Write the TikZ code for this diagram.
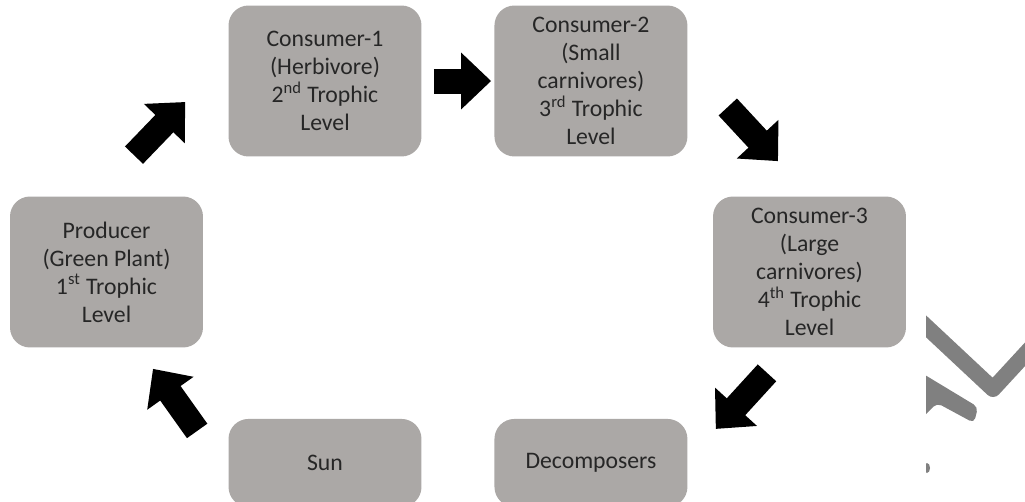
\documentclass[tikz,border=0pt]{standalone}
\usepackage{fontspec}
\setmainfont{Carlito}
\usepackage{tikz}
\usetikzlibrary{arrows.meta, positioning}
\definecolor{boxgray}{RGB}{171,168,166}
\definecolor{markgray}{RGB}{128,128,128}
\tikzstyle{blockarrow} = [line width=0.5cm, -{Triangle[length=0.6cm,width=1.1cm]}]

\begin{document}
\begin{tikzpicture}[x=0.02cm, y=-0.02cm, node distance=5.32cm, on grid]
        \tikzstyle{level}=[
            rectangle,
            rounded corners=0.4cm,
            fill=boxgray,
            minimum width=3.86cm, minimum height=3.02cm, % same size for all levels
            inner sep=0pt,
            align=center,
            text=black!85,
            font=\fontsize{13.5}{15.9}\selectfont
        ]
        \tikzstyle{sink}=[level, minimum height=1.76cm]

        \useasboundingbox (0,0) rectangle (1025,501);
        \clip (0,0) rectangle (1025,501);

        \node[level] (prod) at (106.5,272) {Producer\\(Green Plant)\\1\textsuperscript{st} Trophic\\Level};
        \node[level] (cons1) at (325,81) {Consumer-1\\(Herbivore)\\2\textsuperscript{nd} Trophic\\Level};
        \node[level] (cons2) [right=of cons1] {Consumer-2\\(Small\\carnivores)\\3\textsuperscript{rd} Trophic\\Level};
        \node[level] (cons3) at (809.5,272) {Consumer-3\\(Large\\carnivores)\\4\textsuperscript{th} Trophic\\Level};
        \node[sink] (decomp) [below=7.64cm of cons2] {Decomposers};
        \node[sink] (sun) [left=of decomp] {Sun};

        \draw[blockarrow] ([shift={(27.5,-41)}]prod.north) -- ([shift={(-43,21)}]cons1.west);
        \draw[blockarrow] ([shift={(12,0)}]cons1.east) -- ([shift={(-3,0)}]cons2.west);
        \draw[blockarrow] ([shift={(40,26)}]cons2.east) -- ([shift={(-31.5,-35)}]cons3.north);
        \draw[blockarrow] ([shift={(-42.5,25)}]cons3.south) -- ([shift={(28,-34)}]decomp.east);
        \draw[blockarrow] ([shift={(-31,-32)}]sun.west) -- ([shift={(46.5,21)}]prod.south);

        % mark in the corner
        \begin{scope}
            \clip (926,0) rectangle (1025,501);
            \draw[markgray, line width=0.32cm, line cap=round, line join=round]
                (900,302) -- (993,389) -- (1040,338);
            \fill[markgray, rounded corners=0.1cm]
                (920,372) -- (978,407) -- (974,423) -- (937,403) -- (920,420) -- cycle;
            \fill[markgray] (927,468) ellipse (3 and 5);
        \end{scope}

    \end{tikzpicture}
\end{document}
